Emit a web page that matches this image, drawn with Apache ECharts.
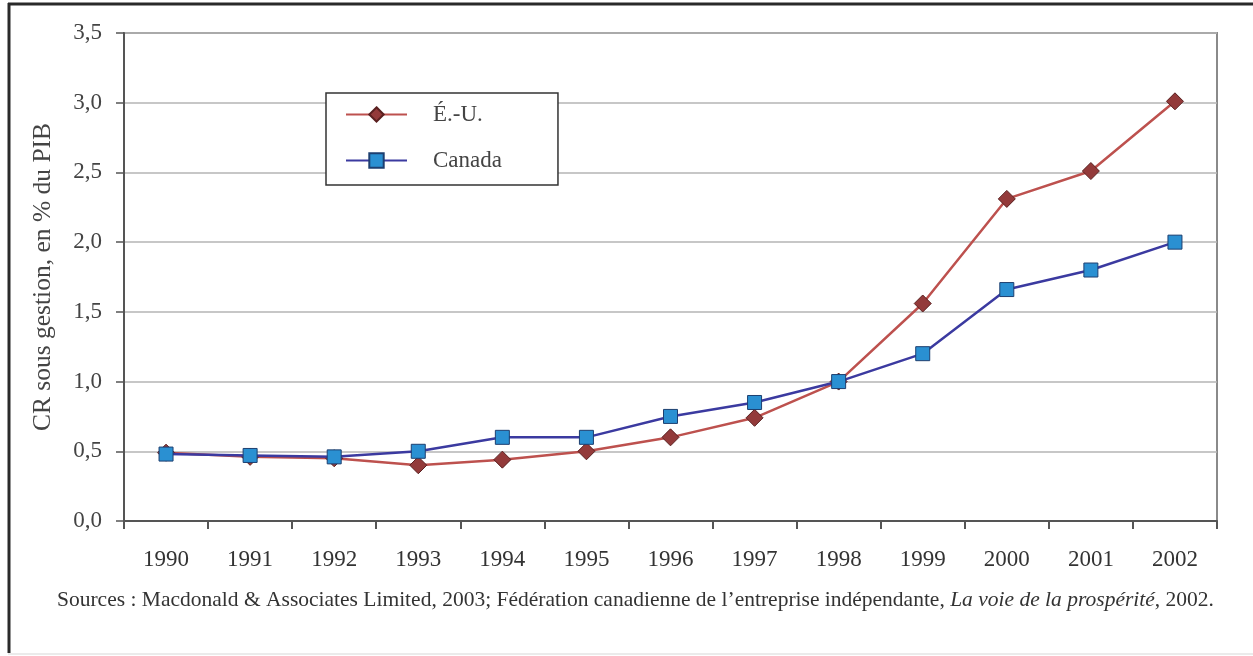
<!DOCTYPE html>
<html>
<head>
<meta charset="utf-8">
<script src="https://cdn.jsdelivr.net/npm/echarts@6/dist/echarts.min.js"></script>
<style>
html,body{margin:0;padding:0;background:#fff;}
#chart{width:1253px;height:656px;}
</style>
</head>
<body>
<div id="chart"></div>
<script>
const years = ['1990','1991','1992','1993','1994','1995','1996','1997','1998','1999','2000','2001','2002'];
const usValues = [0.49, 0.46, 0.45, 0.40, 0.44, 0.50, 0.60, 0.74, 1.00, 1.56, 2.31, 2.51, 3.01];
const canadaValues = [0.48, 0.47, 0.46, 0.50, 0.60, 0.60, 0.75, 0.85, 1.00, 1.20, 1.66, 1.80, 2.00];
const seriesNames = ['É.-U.', 'Canada'];
const yAxisTitle = 'CR sous gestion, en % du PIB';
const sourceText = 'Sources : Macdonald & Associates Limited, 2003; Fédération canadienne de l’entreprise indépendante, ';
const sourceItalic = 'La voie de la prospérité';
const sourceEnd = ', 2002.';

const serif = '"Liberation Serif", "DejaVu Serif", serif';
const chart = echarts.init(document.getElementById('chart'));
chart.setOption({
  animation: false,
  backgroundColor: '#fff',
  grid: {left: 124, right: 36, top: 33, bottom: 135, show: true, borderColor: '#8a8a8a', borderWidth: 2, backgroundColor: 'transparent'},
  legend: {
    orient: 'vertical',
    left: 326, top: 93,
    data: seriesNames,
    itemWidth: 61, itemHeight: 18, itemGap: 23,
    padding: [10, 56, 13, 19],
    borderColor: '#333', borderWidth: 1.5,
    backgroundColor: '#fff',
    textStyle: {fontFamily: serif, fontSize: 23, color: '#444', padding: [0, 0, 0, 21]}
  },
  xAxis: {
    type: 'category',
    data: years,
    boundaryGap: true,
    axisLine: {lineStyle: {color: '#555', width: 2}},
    axisTick: {show: true, length: 8, inside: false, lineStyle: {color: '#555', width: 2}},
    axisLabel: {fontFamily: serif, fontSize: 23, color: '#333', margin: 27},
    splitLine: {show: false}
  },
  yAxis: {
    type: 'value',
    min: 0, max: 3.5, interval: 0.5,
    name: yAxisTitle,
    nameLocation: 'middle',
    nameGap: 68,
    nameTextStyle: {fontFamily: serif, fontSize: 25.5, color: '#444'},
    axisLine: {show: true, lineStyle: {color: '#555', width: 2}},
    axisTick: {show: true, length: 8, lineStyle: {color: '#555', width: 1.5}},
    axisLabel: {fontFamily: serif, fontSize: 23, color: '#444', margin: 22,
      formatter: v => v.toFixed(1).replace('.', ',')},
    splitLine: {show: true, lineStyle: {color: '#b4b4b4', width: 1.5}}
  },
  series: [
    {
      name: seriesNames[0], type: 'line', data: usValues,
      symbol: 'diamond', symbolSize: 17,
      lineStyle: {color: '#bd514e', width: 2.5},
      itemStyle: {color: '#933a3a', borderColor: '#5a2020', borderWidth: 1},
      z: 2
    },
    {
      name: seriesNames[1], type: 'line', data: canadaValues,
      symbol: 'rect', symbolSize: 14,
      lineStyle: {color: '#3b3aa0', width: 2.5},
      itemStyle: {color: '#2a90d2', borderColor: '#1d3f70', borderWidth: 1},
      z: 3
    }
  ],
  graphic: [
    {type: 'line', shape: {x1: 8, y1: 4, x2: 1253, y2: 4}, style: {stroke: '#2a2a2a', lineWidth: 3}},
    {type: 'line', shape: {x1: 9, y1: 3, x2: 9, y2: 653}, style: {stroke: '#2a2a2a', lineWidth: 3}},
    {type: 'line', shape: {x1: 8, y1: 654, x2: 1253, y2: 654}, style: {stroke: '#e4e4e4', lineWidth: 1.5}},
    {type: 'text', left: 57, top: 589,
      style: {
        text: '{n|' + sourceText + '}{i|' + sourceItalic + '}{n|' + sourceEnd + '}',
        rich: {
          n: {fontFamily: serif, fontSize: 21.5, fill: '#333'},
          i: {fontFamily: serif, fontSize: 21.5, fontStyle: 'italic', fill: '#333'}
        }
      }}
  ]
});
</script>
</body>
</html>
